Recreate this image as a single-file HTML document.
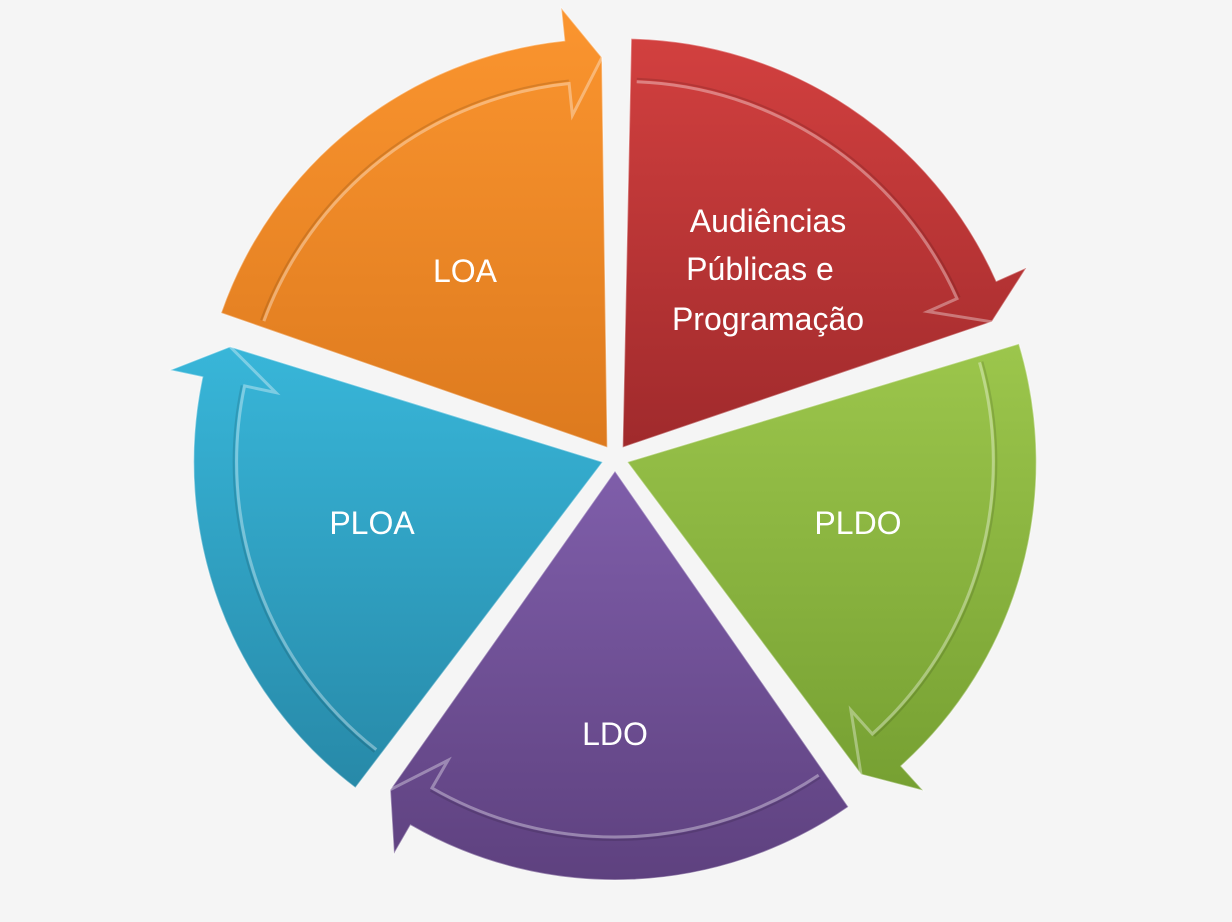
<!DOCTYPE html>
<html><head><meta charset="utf-8"><style>
html,body{margin:0;padding:0;background:#f5f5f5;}
svg{display:block}
text{font-family:"Liberation Sans",sans-serif;fill:#fff;font-size:32px;text-anchor:middle}
</style></head><body>
<svg id="s" width="1232" height="922" viewBox="0 0 1232 922">
<defs>
<linearGradient id="g0" x1="0" y1="0" x2="0" y2="1"><stop offset="0" stop-color="#d2403f"/><stop offset="1" stop-color="#a02a2c"/></linearGradient>
<linearGradient id="g1" x1="0" y1="0" x2="0" y2="1"><stop offset="0" stop-color="#9cc64c"/><stop offset="1" stop-color="#76a032"/></linearGradient>
<linearGradient id="g2" x1="0" y1="0" x2="0" y2="1"><stop offset="0" stop-color="#7f5eaa"/><stop offset="1" stop-color="#5e417f"/></linearGradient>
<linearGradient id="g3" x1="0" y1="0" x2="0" y2="1"><stop offset="0" stop-color="#38b6d9"/><stop offset="1" stop-color="#2789a8"/></linearGradient>
<linearGradient id="g4" x1="0" y1="0" x2="0" y2="1"><stop offset="0" stop-color="#fb952f"/><stop offset="1" stop-color="#dd7a1e"/></linearGradient>
</defs>
<g id="shapes"></g>
<text x="465" y="282">LOA</text>
<text x="768" y="232">Audiências</text>
<text x="760" y="280">Públicas e</text>
<text x="768" y="330">Programação</text>
<text x="858" y="534">PLDO</text>
<text x="615" y="745">LDO</text>
<text x="372" y="534">PLOA</text>
</svg>
<script>
const cx=615,cy=458,g=document.getElementById('shapes');
function P(r,a,ox,oy){const t=a*Math.PI/180;return (cx+ox+r*Math.sin(t)).toFixed(1)+','+(cy+oy-r*Math.cos(t)).toFixed(1);}
let h='';
for(let i=0;i<5;i++){
 const a0=i*72, a1=a0+72, mid=a0+36, mt=mid*Math.PI/180;
 const ox=13*Math.sin(mt), oy=-13*Math.cos(mt);
 const Ro=409, Ri=366, b0=a0+1.2, be=a1-6, tip=a1-0.8;
 h+=`<path d="M${cx+ox},${cy+oy} L${P(Ro,b0,ox,oy)} A${Ro},${Ro} 0 0 1 ${P(Ro,be,ox,oy)} L${P(442,be,ox,oy)} L${P(390,tip,ox,oy)} Z" fill="url(#g${i})" stroke="rgba(255,255,255,0.4)" stroke-width="1.5"/>`;
 h+=`<path d="M${P(Ri,b0+1,ox,oy)} A${Ri},${Ri} 0 0 1 ${P(Ri,be,ox,oy)} L${P(334,be,ox,oy)} L${P(390,tip,ox,oy)}" fill="none" stroke="rgba(255,255,255,0.35)" stroke-width="3"/>`;
 h+=`<path d="M${P(Ri+3,b0+1,ox,oy)} A${Ri+3},${Ri+3} 0 0 1 ${P(Ri+3,be,ox,oy)}" fill="none" stroke="rgba(0,0,0,0.12)" stroke-width="2"/>`;
}
g.innerHTML=h;
</script>
</body></html>
